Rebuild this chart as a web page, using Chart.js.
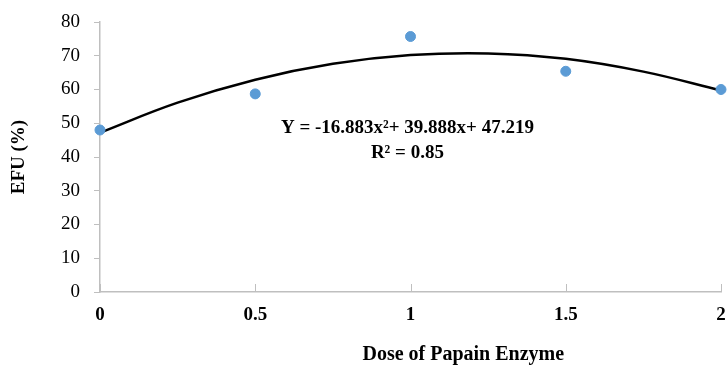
<!DOCTYPE html>
<html>
<head>
<meta charset="utf-8">
<script src="https://cdn.jsdelivr.net/npm/chart.js@4.4.0/dist/chart.umd.min.js"></script>
<style>
  html, body { margin: 0; padding: 0; background: #fff; }
  #wrap { width: 727px; height: 366px; }
</style>
</head>
<body>
<div id="wrap"><canvas id="grafico"></canvas></div>
<script>
// dose values and measured EFU (%)
const dosis = [0, 0.5, 1, 1.5, 2];
const efu = [48, 58.7, 75.7, 65.4, 60];

// trend curve
const curvaX = [0, 0.25, 0.5, 0.75, 1, 1.25, 1.5, 1.75, 2];
const curvaY = [47.2, 56.1, 62.9, 67.6, 70.2, 70.7, 69.1, 65.3, 59.7];

const ticksY = [0, 10, 20, 30, 40, 50, 60, 70, 80];
const ticksX = [0, 0.5, 1, 1.5, 2];

const ecuacion = ['Y = -16.883x\u00b2+ 39.888x+ 47.219', 'R\u00b2 = 0.85'];
const tituloX = 'Dose of Papain Enzyme';
const tituloY = 'EFU (%)';

const gris = '#bfbfbf';
const fuente = '"Times New Roman", "Liberation Serif", serif';

const puntos = dosis.map((d, i) => ({ x: d, y: efu[i] }));
const curva = curvaX.map((d, i) => ({ x: d, y: curvaY[i] }));

// small marks on x axis pointing up, plus equation and x title
const extras = {
  id: 'extras',
  afterDraw(chart) {
    const ctx = chart.ctx;
    const sx = chart.scales.x;
    const sy = chart.scales.y;
    ctx.save();
    ctx.strokeStyle = gris;
    ctx.lineWidth = 1;
    ticksX.forEach(t => {
      const px = Math.round(sx.getPixelForValue(t)) + 0.5;
      ctx.beginPath();
      ctx.moveTo(px, sy.bottom);
      ctx.lineTo(px, sy.bottom - 8);
      ctx.stroke();
    });

    ctx.fillStyle = '#000';
    ctx.textAlign = 'center';
    ctx.textBaseline = 'middle';
    ctx.font = 'bold 19px ' + fuente;
    const cx = sx.getPixelForValue(0.99);
    ctx.fillText(ecuacion[0], cx, sy.getPixelForValue(48.5));
    ctx.fillText(ecuacion[1], cx, sy.getPixelForValue(41.3));

    ctx.font = 'bold 20px ' + fuente;
    ctx.fillText(tituloX, sx.getPixelForValue(1.17), 355);
    ctx.restore();
  }
};

new Chart(document.getElementById('grafico'), {
  type: 'scatter',
  data: {
    datasets: [
      {
        type: 'line',
        data: curva,
        borderColor: '#000',
        borderWidth: 2.5,
        pointRadius: 0,
        tension: 0.4,
        fill: false,
        order: 2
      },
      {
        data: puntos,
        backgroundColor: '#5b9bd5',
        borderColor: '#5b9bd5',
        pointRadius: 5,
        order: 1
      }
    ]
  },
  options: {
    responsive: true,
    maintainAspectRatio: false,
    animation: false,
    clip: false,
    layout: { padding: { top: 22, right: 6, left: 0, bottom: 0 } },
    plugins: {
      legend: { display: false },
      tooltip: { enabled: false }
    },
    scales: {
      x: {
        type: 'linear',
        min: 0,
        max: 2,
        afterBuildTicks: s => { s.ticks = ticksX.map(v => ({ value: v })); },
        afterFit: s => { s.height = 74; s.paddingLeft = 0; s.paddingRight = 0; },
        grid: { display: true, drawOnChartArea: false, drawTicks: false, color: gris },
        border: { display: true, color: gris, width: 1.5 },
        ticks: {
          padding: 12,
          color: '#000',
          callback: v => String(v),
          font: { family: fuente, size: 19, weight: 'bold' }
        }
      },
      y: {
        min: 0,
        max: 80,
        afterBuildTicks: s => { s.ticks = ticksY.map(v => ({ value: v })); },
        afterFit: s => { s.width = 100; s.paddingTop = 0; s.paddingBottom = 0; },
        grid: { display: true, drawOnChartArea: false, drawTicks: true, tickLength: 6, color: gris },
        border: { display: true, color: gris, width: 1.5 },
        ticks: {
          padding: 14,
          color: '#000',
          font: { family: fuente, size: 19 }
        },
        title: {
          display: true,
          text: tituloY,
          color: '#000',
          padding: { top: 8, bottom: 0 },
          font: { family: fuente, size: 19, weight: 'bold' }
        }
      }
    }
  },
  plugins: [extras]
});
</script>
</body>
</html>
